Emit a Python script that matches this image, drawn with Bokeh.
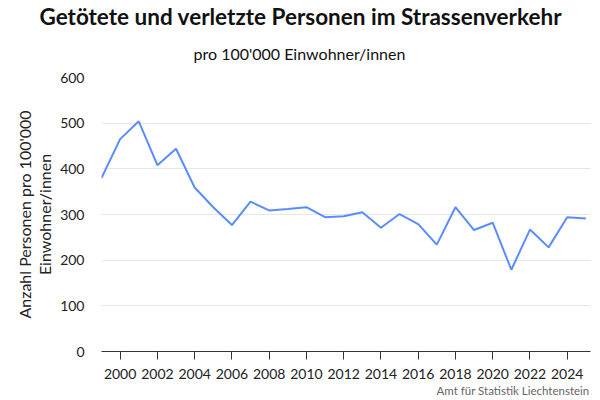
from bokeh.plotting import figure
from bokeh.models import FixedTicker, Range1d, Title
from bokeh.embed import file_html
from bokeh.resources import INLINE

years = list(range(1999, 2026))
values = [380, 465, 504, 408, 444, 359, 316, 277, 328, 309, 312, 316, 294,
          296, 305, 271, 301, 279, 234, 316, 266, 282, 179, 267, 228, 294, 291]
x_ticks = list(range(2000, 2025, 2))
y_ticks = [0, 100, 200, 300, 400, 500, 600]

FONT = "Lato"

p = figure(width=600, height=400, output_backend="svg", toolbar_location=None,
           x_range=Range1d(1999, 2025.25), y_range=Range1d(0, 600),
           min_border_left=101, min_border_right=10, min_border_top=77, min_border_bottom=49)
p.outline_line_color = None

p.line(years, values, line_color="#5b8cff", line_width=2)

sub = Title(text="pro 100'000 Einwohner/innen", align="left", offset=92,
            text_font=FONT, text_font_size="16px", text_font_style="normal",
            text_color="#111111", standoff=29)
main = Title(text="Getötete und verletzte Personen im Strassenverkehr", align="left",
             offset=-62, text_font=FONT, text_font_size="22.5px", text_font_style="bold",
             text_color="#111111", standoff=-4)
p.add_layout(sub, "above")
p.add_layout(main, "above")

credit = Title(text="Amt für Statistik Liechtenstein", align="right", offset=1,
               text_font=FONT, text_font_size="11.5px", text_font_style="normal",
               text_color="#666666", standoff=0)
p.add_layout(credit, "below")

xa = p.xaxis[0]
xa.ticker = FixedTicker(ticks=x_ticks)
xa.axis_line_color = "#333333"
xa.major_tick_line_color = "#333333"
xa.major_tick_out = 8
xa.major_tick_in = 0
xa.minor_tick_line_color = None
xa.major_label_text_font = FONT
xa.major_label_text_font_size = "14px"
xa.major_label_text_color = "#222222"
xa.major_label_standoff = 9

ya = p.yaxis[0]
ya.ticker = FixedTicker(ticks=y_ticks)
ya.axis_line_color = None
ya.major_tick_line_color = None
ya.minor_tick_line_color = None
ya.major_label_text_font = FONT
ya.major_label_text_font_size = "14px"
ya.major_label_text_color = "#222222"
ya.major_label_standoff = 11
ya.axis_label = "Anzahl Personen pro 100'000\nEinwohner/innen"
ya.axis_label_text_font = FONT
ya.axis_label_text_font_size = "16px"
ya.axis_label_text_line_height = 1.05
ya.axis_label_text_font_style = "normal"
ya.axis_label_text_color = "#222222"
ya.axis_label_standoff = 3

p.xgrid.grid_line_color = None
p.ygrid.grid_line_color = "#e6e6e6"
p.ygrid.ticker = FixedTicker(ticks=y_ticks)

open("out.html", "w").write(file_html(p, INLINE))
